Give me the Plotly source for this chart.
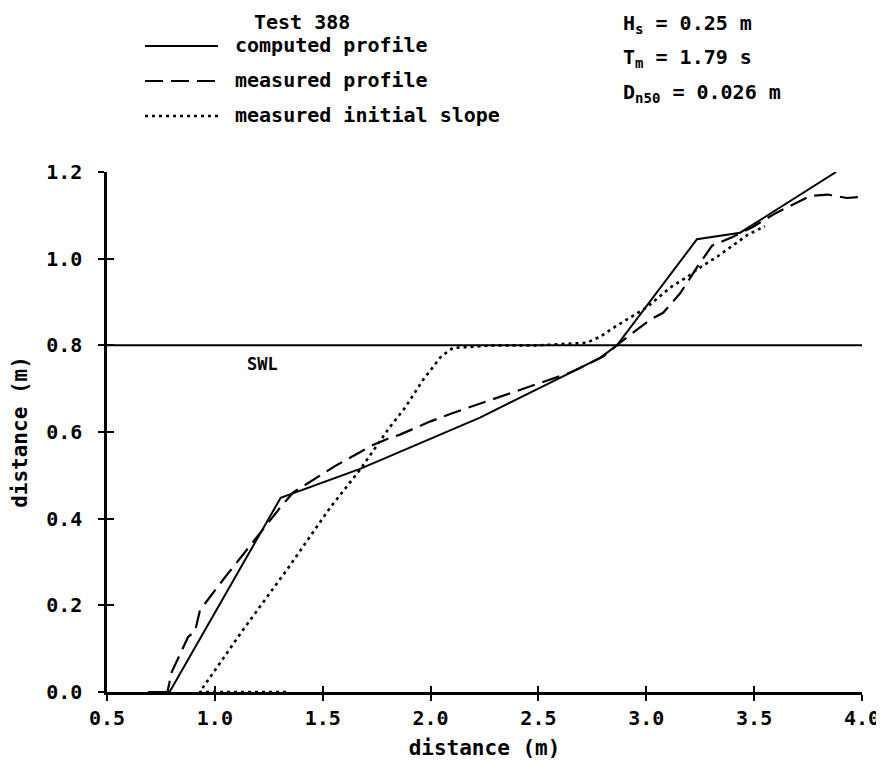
import plotly.graph_objects as go

# ---- data ----
computed_x = [0.69, 0.79, 1.177, 1.305, 1.673, 2.137, 2.229, 2.60, 2.786, 2.864, 3.0, 3.235, 3.435, 3.88]
computed_y = [0.0, 0.0, 0.337, 0.448, 0.515, 0.612, 0.633, 0.725, 0.771, 0.80, 0.89, 1.045, 1.06, 1.2]

measured_x = [0.75, 0.78, 0.80, 0.876, 0.908, 0.931, 1.038, 1.149, 1.256, 1.302, 1.362, 1.455, 1.566,
              1.733, 1.81, 1.858, 1.997, 2.104, 2.215, 2.415, 2.52, 2.647, 2.80, 2.878, 2.957, 3.017,
              3.078, 3.157, 3.235, 3.305, 3.40, 3.50, 3.60, 3.70, 3.76, 3.84, 3.93, 4.0]
measured_y = [0.0, 0.0, 0.046, 0.127, 0.14, 0.189, 0.259, 0.328, 0.397, 0.425, 0.46, 0.49, 0.524,
              0.57, 0.586, 0.594, 0.624, 0.644, 0.663, 0.697, 0.716, 0.737, 0.774, 0.806, 0.836, 0.859,
              0.875, 0.92, 0.98, 1.03, 1.05, 1.075, 1.105, 1.13, 1.145, 1.148, 1.14, 1.143]

initial_x = [1.33, 0.93, 1.13, 1.334, 1.534, 1.673, 1.812, 1.88, 1.965, 2.05, 2.104, 2.3, 2.5, 2.65,
             2.725, 2.786, 2.818, 2.846, 3.0, 3.11, 3.19, 3.25, 3.33, 3.42, 3.47, 3.55]
initial_y = [0.0, 0.0, 0.143, 0.282, 0.425, 0.513, 0.612, 0.655, 0.72, 0.775, 0.794, 0.80, 0.80, 0.803,
             0.806, 0.82, 0.831, 0.84, 0.887, 0.933, 0.958, 0.98, 1.005, 1.037, 1.055, 1.075]

swl_level = 0.8
x_range = [0.5, 4.0]
y_range = [0.0, 1.2]
x_ticks = [0.5, 1.0, 1.5, 2.0, 2.5, 3.0, 3.5, 4.0]
y_ticks = [0.0, 0.2, 0.4, 0.6, 0.8, 1.0, 1.2]

series_names = ["computed profile", "measured profile", "measured initial slope"]
title_text = "Test 388"
param_texts = ["H<sub>s</sub> = 0.25 m", "T<sub>m</sub> = 1.79 s", "D<sub>n50</sub> = 0.026 m"]

FONT = "DejaVu Sans Mono"
DASH = "18px,8px"
DOT = "3px,4px"

fig = go.Figure()
fig.add_trace(go.Scatter(x=x_range, y=[swl_level, swl_level], mode="lines",
                         line=dict(color="black", width=2), showlegend=False, hoverinfo="skip"))
fig.add_trace(go.Scatter(x=computed_x, y=computed_y, mode="lines", name=series_names[0],
                         line=dict(color="black", width=2), showlegend=False))
fig.add_trace(go.Scatter(x=measured_x, y=measured_y, mode="lines", name=series_names[1],
                         line=dict(color="black", width=2.2, dash=DASH), showlegend=False))
fig.add_trace(go.Scatter(x=initial_x, y=initial_y, mode="lines", name=series_names[2],
                         line=dict(color="black", width=2.6, dash=DOT), showlegend=False))
# empty trace to carry the overlay axes (inner half of crossing ticks)
fig.add_trace(go.Scatter(x=[None], y=[None], xaxis="x2", yaxis="y2", showlegend=False))

# the page body has an 8px margin; figure sized so nothing scrolls
OFF = 8
W, H = 876, 760
PLOT_L, PLOT_R, PLOT_T, PLOT_B = 107, 862, 172, 692   # plot area in page pixels
L = PLOT_L - OFF
T = PLOT_T - OFF
R = W - (PLOT_R - OFF)
B = H - (PLOT_B - OFF)
PW, PH = PLOT_R - PLOT_L, PLOT_B - PLOT_T


def px(xp):
    return (xp - PLOT_L) / PW


def py(yp):
    return (PLOT_B - yp) / PH


tickfont = dict(family=FONT, size=20, color="black", weight="bold")
axis_common = dict(showgrid=False, zeroline=False, showline=True, linecolor="black", linewidth=2.5,
                   ticks="outside", ticklen=6, tickwidth=2, tickcolor="black", tickfont=tickfont,
                   tickformat=".1f", automargin=False)
title_font = dict(family=FONT, size=21, color="black", weight="bold")

fig.update_layout(
    width=W, height=H,
    margin=dict(l=L, r=R, t=T, b=B, autoexpand=False),
    plot_bgcolor="white", paper_bgcolor="white",
    showlegend=False,
    font=dict(family=FONT, size=20, color="black"),
    xaxis=dict(range=x_range, tickvals=x_ticks, anchor="y",
               title=dict(text="distance (m)", font=title_font, standoff=12),
               **axis_common),
    yaxis=dict(range=y_range, tickvals=y_ticks, ticklabelstandoff=12, anchor="x",
               title=dict(text="distance (m)", font=title_font, standoff=14),
               **axis_common),
    xaxis2=dict(range=x_range, overlaying="x", anchor="y2", side="bottom", tickvals=x_ticks,
                showticklabels=False, showline=False, showgrid=False, zeroline=False, automargin=False,
                ticks="inside", ticklen=6, tickwidth=2, tickcolor="black"),
    yaxis2=dict(range=y_range, overlaying="y", anchor="x2", side="left", tickvals=y_ticks,
                showticklabels=False, showline=False, showgrid=False, zeroline=False, automargin=False,
                ticks="inside", ticklen=7, tickwidth=2, tickcolor="black"),
)

bold20 = dict(family=FONT, size=20, color="black", weight="bold")

# manual key
key_rows = [46, 81, 116]
key_dash = ["solid", DASH, DOT]
key_width = [2, 2.2, 2.6]
for name, yr, d, w in zip(series_names, key_rows, key_dash, key_width):
    fig.add_shape(type="line", xref="paper", yref="paper", x0=px(145), x1=px(218), y0=py(yr), y1=py(yr),
                  line=dict(color="black", width=w, dash=d))
    fig.add_annotation(text=name, xref="paper", yref="paper", x=px(233), y=py(yr - 1),
                       xanchor="left", yanchor="middle", showarrow=False, font=bold20)

fig.add_annotation(text=title_text, xref="paper", yref="paper", x=px(252), y=py(22),
                   xanchor="left", yanchor="middle", showarrow=False, font=bold20)

for t, yr in zip(param_texts, [24, 58, 93]):
    fig.add_annotation(text=t, xref="paper", yref="paper", x=px(621), y=py(yr),
                       xanchor="left", yanchor="middle", showarrow=False, font=bold20)

fig.add_annotation(text="SWL", x=1.22, y=0.757, xref="x", yref="y", showarrow=False,
                   font=dict(family=FONT, size=17, color="black", weight="bold"))

fig.write_html("out.html")
